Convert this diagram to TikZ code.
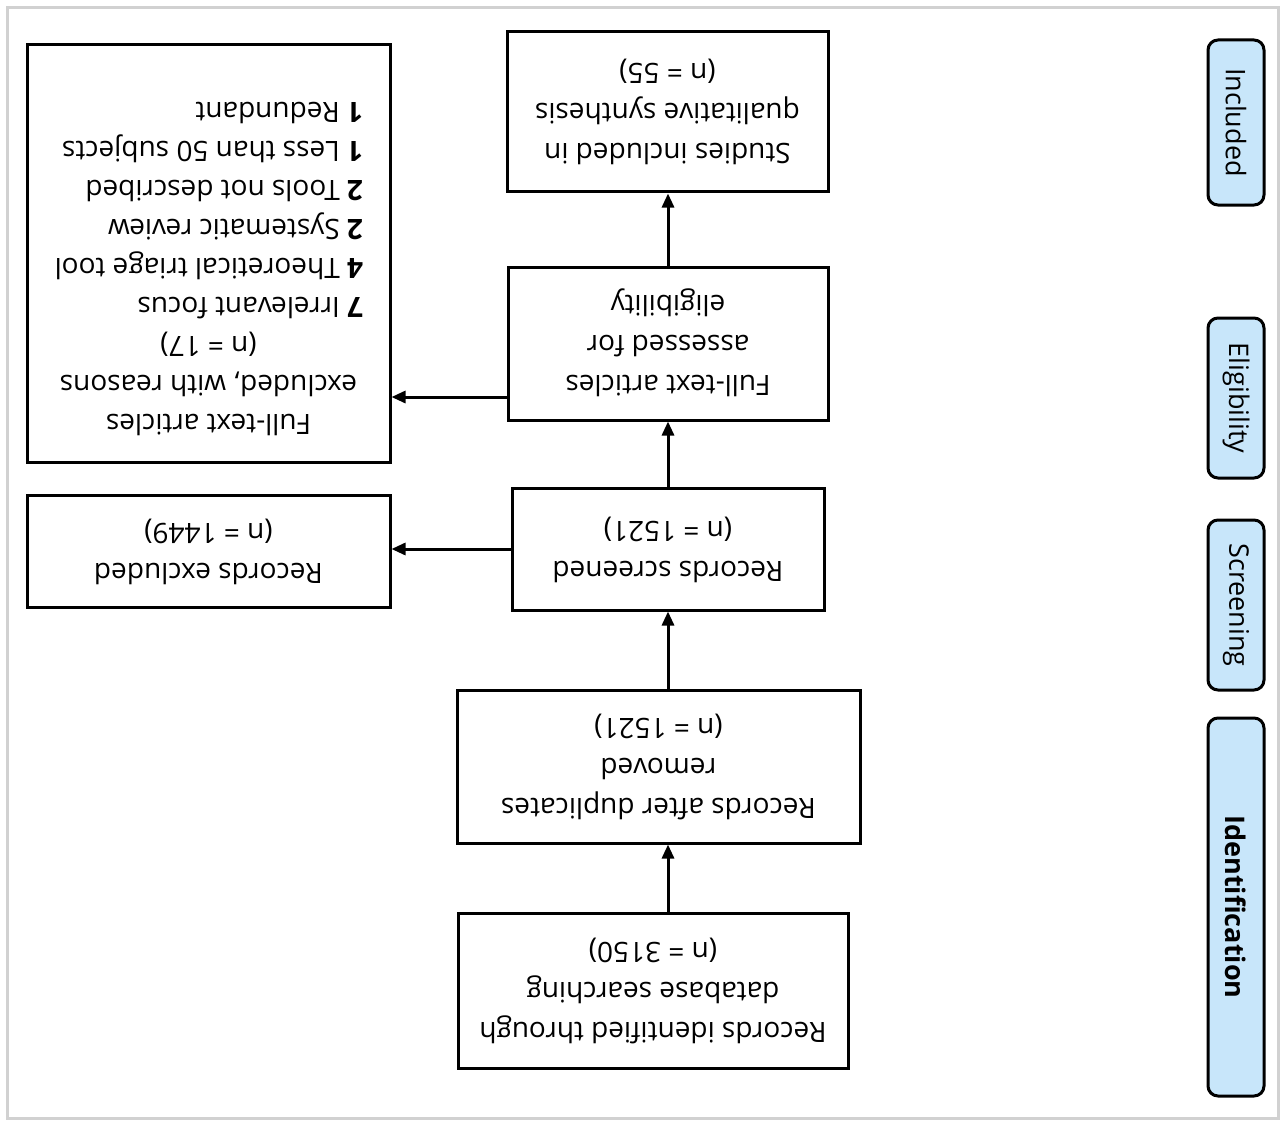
\documentclass[tikz,border=0pt]{standalone}
\usepackage{fontspec}
\setmainfont{Open Sans}
\usepackage{graphicx}
\usetikzlibrary{arrows.meta,calc}
\definecolor{lblue}{RGB}{200,230,250}
\newcommand\flipc[1]{\rotatebox{180}{\begin{tabular}{@{}c@{}}#1\end{tabular}}}
\newcommand\flipl[1]{\rotatebox{180}{\begin{tabular}{@{}l@{}}#1\end{tabular}}}
\begin{document}
\begin{tikzpicture}[x=1pt,y=-1pt,
  box/.style={draw=black,line width=3pt,inner sep=0pt,font=\fontsize{28}{40}\selectfont},
  side/.style={draw=black,fill=lblue,rounded corners=10pt,line width=3pt,inner sep=0pt,minimum width=56pt,font=\fontsize{27}{30}\selectfont},
  arr/.style={line width=3pt,-{Triangle[length=14pt,width=12pt]}},
  frame/.style={draw=black!18,line width=3pt}
]
\useasboundingbox (0,0) rectangle (1284,1126);
\draw[frame] (7,8) rectangle (1278,1118);

\node[box,minimum width=390pt,minimum height=155pt] (b1) at (653,990.5)
  {\flipc{Records identified through\\database searching\\(n = 3150)}};
\node[box,minimum width=403pt,minimum height=153pt] (b2) at (658.5,766.5)
  {\flipc{Records after duplicates\\removed\\(n = 1521)}};
\node[box,minimum width=312pt,minimum height=122pt] (b3) at (668,549)
  {\flipc{Records screened\\(n = 1521)}};
\node[box,minimum width=320pt,minimum height=153pt] (b4) at (668,343.5)
  {\flipc{Full-text articles\\assessed for\\eligibility}};
\node[box,minimum width=321pt,minimum height=160pt] (b5) at (667.5,112)
  {\flipc{Studies included in\\qualitative synthesis\\(n = 55)}};
\node[box,minimum width=363pt,minimum height=112pt] (b6) at (208.5,551)
  {\flipc{Records excluded\\(n = 1449)}};
\node[box,minimum width=363pt,minimum height=417pt,font=\fontsize{28}{39}\selectfont] (b7) at (208.5,253.5)
  {\flipl{\multicolumn{1}{c}{Full-text articles}\\\multicolumn{1}{c}{excluded, with reasons}\\\multicolumn{1}{c}{(n = 17)}\\
   \textbf{7} Irrelevant focus\\\textbf{4} Theoretical triage tool\\\textbf{2} Systematic review\\\textbf{2} Tools not described\\\textbf{1} Less than 50 subjects\\\textbf{1} Redundant\rule[-37pt]{0pt}{0pt}}};

\node[side,minimum height=165pt] (s1) at (1236,122.5) {\rotatebox{-90}{Included}};
\node[side,minimum height=160pt] (s2) at (1236,398) {\rotatebox{-90}{Eligibility}};
\node[side,minimum height=170pt] (s3) at (1236,605) {\rotatebox{-90}{Screening}};
\node[side,minimum height=378pt] (s4) at (1236,907) {\rotatebox{-90}{\bfseries Identification}};

\draw[arr] (b1.north -| b3.center) -- (b2.south -| b3.center);
\draw[arr] (b2.north -| b3.center) -- (b3.south);
\draw[arr] (b3.north) -- (b4.south);
\draw[arr] (b4.north) -- (b5.south -| b4.north);
\draw[arr] (b3.west) -- (b3.west -| b6.east);
\coordinate (c4) at ($(b4.south west)!0.157!(b4.north west)$);
\draw[arr] (c4) -- (c4 -| b7.east);
\end{tikzpicture}
\end{document}
